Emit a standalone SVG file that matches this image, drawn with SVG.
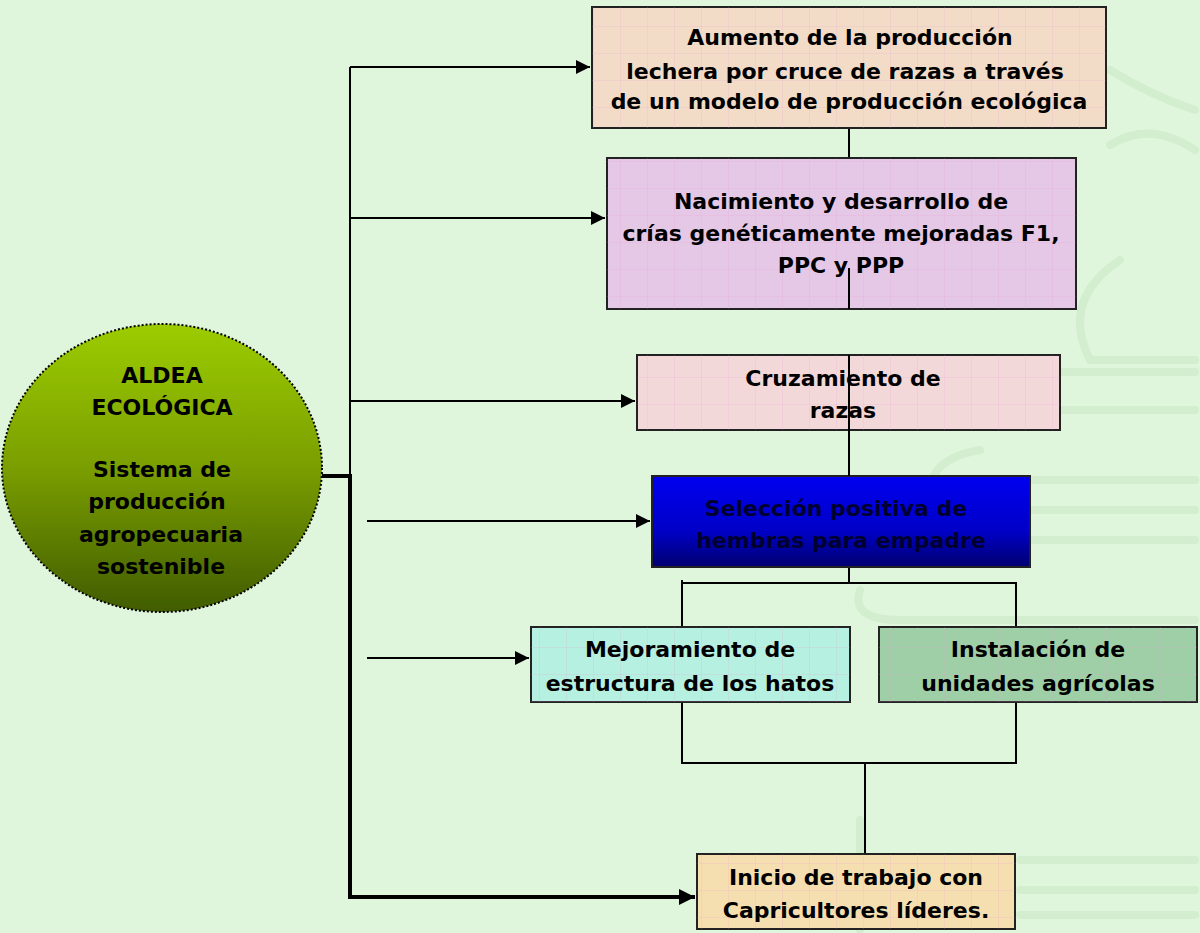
<svg xmlns="http://www.w3.org/2000/svg" width="1200" height="933" viewBox="0 0 1200 933">
<style>
.box{stroke:#222;stroke-width:2}
.t{font-family:"DejaVu Sans",sans-serif;font-weight:bold;font-size:22px;fill:#000;text-anchor:middle}
.c{stroke:#000;stroke-width:2;fill:none}
.thick{stroke:#000;stroke-width:4;fill:none}
.deco{stroke:#d3edcf;stroke-width:8;fill:none;stroke-linecap:round}
</style>
<defs>
<linearGradient id="gCircle" x1="0" y1="0" x2="0" y2="1">
<stop offset="0" stop-color="#9ccc00"/>
<stop offset="0.5" stop-color="#7a9e00"/>
<stop offset="1" stop-color="#405c00"/>
</linearGradient>
<linearGradient id="gBlue" x1="0" y1="0" x2="0" y2="1">
<stop offset="0" stop-color="#0000f0"/>
<stop offset="0.6" stop-color="#0000c8"/>
<stop offset="1" stop-color="#000070"/>
</linearGradient>
<pattern id="grid" width="27" height="27" patternUnits="userSpaceOnUse">
<path d="M27 0V27M0 27H27" stroke="#e89ad8" stroke-width="1" fill="none" opacity="0.35"/>
</pattern>
<marker id="arr" viewBox="0 0 10 10" refX="10" refY="5" markerWidth="7" markerHeight="7" orient="auto">
<path d="M0 0L10 5L0 10z" fill="#000"/>
</marker>
<marker id="arrT" viewBox="0 0 10 10" refX="10" refY="5" markerWidth="4" markerHeight="4" orient="auto">
<path d="M0 0L10 5L0 10z" fill="#000"/>
</marker>
</defs>
<rect width="1200" height="933" fill="#dff6dc"/>
<g id="background">
<path class="deco" d="M1110 70 Q1150 95 1195 110"/>
<path class="deco" d="M1110 145 Q1150 120 1195 150"/>
<path class="deco" d="M1120 260 Q1060 300 1090 360 H1195"/>
<path class="deco" d="M1060 372 H1195"/>
<path class="deco" d="M1060 410 H1195"/>
<path class="deco" d="M980 450 Q920 460 930 510 H1195"/>
<path class="deco" d="M1032 480 H1195"/>
<path class="deco" d="M1032 540 H1195"/>
<path class="deco" d="M860 590 Q850 620 900 620 H1195"/>
<path class="deco" d="M860 820 V930"/>
<path class="deco" d="M1020 860 H1195"/>
<path class="deco" d="M1020 890 H1195"/>
<path class="deco" d="M1020 915 H1195"/>
</g>
<g id="connectors">
<path class="c" d="M350 67V476"/>
<path class="thick" d="M322 476H350V897H695" marker-end="url(#arrT)"/>
<path class="c" d="M350 67H590" marker-end="url(#arr)"/>
<path class="c" d="M350 218H605" marker-end="url(#arr)"/>
<path class="c" d="M350 401H635" marker-end="url(#arr)"/>
<path class="c" d="M367 521H650" marker-end="url(#arr)"/>
<path class="c" d="M367 658H529" marker-end="url(#arr)"/>
<path class="c" d="M849 128V158"/>
<path class="c" d="M849 567V583"/>
<path class="c" d="M682 580V627M682 583H1016V627"/>
<path class="c" d="M682 702V763H1016V702M865 763V854"/>
</g>
<g id="node-aldea">
<ellipse cx="162" cy="468" rx="160" ry="144" fill="url(#gCircle)" stroke="#000" stroke-width="2" stroke-dasharray="2 2"/>
<text class="t" x="162" y="383">ALDEA</text>
<text class="t" x="162" y="415">ECOLÓGICA</text>
<text class="t" x="162" y="477">Sistema de</text>
<text class="t" x="157" y="509">producción</text>
<text class="t" x="161" y="542">agropecuaria</text>
<text class="t" x="161" y="574">sostenible</text>
</g>
<g id="node-aumento">
<rect class="box" x="592" y="7" width="514" height="121" fill="#f2dcc8"/>
<rect x="592" y="7" width="514" height="121" fill="url(#grid)"/>
<text class="t" x="850" y="45">Aumento de la producción</text>
<text class="t" x="845" y="79">lechera por cruce de razas a través</text>
<text class="t" x="849" y="109">de un modelo de producción ecológica</text>
</g>
<g id="node-nacimiento">
<rect class="box" x="607" y="158" width="469" height="151" fill="#e4c8e6"/>
<rect x="607" y="158" width="469" height="151" fill="url(#grid)"/>
<text class="t" x="841" y="209">Nacimiento y desarrollo de</text>
<text class="t" x="841" y="241">crías genéticamente mejoradas F1,</text>
<text class="t" x="841" y="273">PPC y PPP</text>
</g>
<g id="node-cruzamiento">
<rect class="box" x="637" y="355" width="423" height="75" fill="#f2d8d8"/>
<rect x="637" y="355" width="423" height="75" fill="url(#grid)"/>
<text class="t" x="843" y="386">Cruzamiento de</text>
<text class="t" x="843" y="418">razas</text>
</g>
<g id="node-seleccion">
<rect class="box" x="652" y="476" width="378" height="91" fill="url(#gBlue)"/>
<text class="t" x="836" y="516" style="fill:#000030">Selección positiva de</text>
<text class="t" x="841" y="548" style="fill:#000030">hembras para empadre</text>
</g>
<g id="node-mejoramiento">
<rect class="box" x="531" y="627" width="319" height="75" fill="#b6f0e0"/>
<rect x="531" y="627" width="319" height="75" fill="url(#grid)"/>
<text class="t" x="690" y="657">Mejoramiento de</text>
<text class="t" x="690" y="691">estructura de los hatos</text>
</g>
<g id="node-instalacion">
<rect class="box" x="879" y="627" width="318" height="75" fill="#9fcfa6"/>
<rect x="879" y="627" width="318" height="75" fill="url(#grid)"/>
<text class="t" x="1038" y="657">Instalación de</text>
<text class="t" x="1038" y="691">unidades agrícolas</text>
</g>
<g id="node-inicio">
<rect class="box" x="697" y="854" width="318" height="75" fill="#f5deb0"/>
<rect x="697" y="854" width="318" height="75" fill="url(#grid)"/>
<text class="t" x="856" y="885">Inicio de trabajo con</text>
<text class="t" x="856" y="918">Capricultores líderes.</text>
</g>
<g id="connectors-over">
<path class="c" stroke-width="1.5" d="M849 268V309M849 355V476"/>
</g>
</svg>
